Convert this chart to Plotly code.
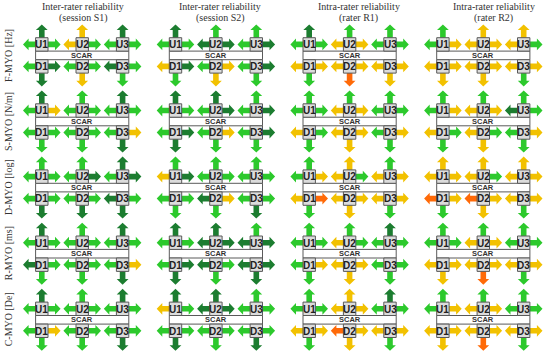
import plotly.graph_objects as go

# ---------------- data ----------------
TITLE_LINE1 = ["Inter-rater reliability", "Inter-rater reliability",
               "Intra-rater reliability", "Intra-rater reliability"]
TITLE_LINE2 = ["(session S1)", "(session S2)", "(rater R1)", "(rater R2)"]
ROW_LABELS = ["F-MYO [Hz]", "S-MYO [N/m]", "D-MYO [log]", "R-MYO [ms]", "C-MYO [De]"]
UP_ELECTRODES = ["U1", "U2", "U3"]
DOWN_ELECTRODES = ["D1", "D2", "D3"]

# reliability level of every arrow, one string per column (S1, S2, R1, R2)
# groups: U1 U2 U3 (up, left, right)  D1 D2 D3 (left, right, down)
# E = excellent, G = good, M = moderate, P = poor
F_MYO = ["EGG MMG EGG GEE GGM EGG", "EGG GEE GGE MEG GMM GEG",
         "EGG GMM GGG MMG MMP MMM", "GGM MMM MMG MMM MMM MMG"]
S_MYO = ["EGM GGG EGG GGG GGG GME", "EGG EGE GGE GEE GMG GEG",
         "GGG GMM GGG MGG MMM GMG", "GGM GMM GEG MGG MGM GMG"]
D_MYO = ["GGG GGE EGE GGE GGE EGE", "GME GGG GGG GGG EMG GGE",
         "GGM MMG GMM MPG MMM MMG", "MMM MMG MMM PMG PMM MMG"]
R_MYO = ["EGG GGG EGG EGG GGG GME", "EGG EEE GEE GEE EGG EEE",
         "GGG GMG EGG GMG MMM GGG", "GGG GMM GGG MMM MMP MMG"]
C_MYO = ["EGG GGG EGG GMG GGG GGE", "EMG EEE GGG GGE GGG GGE",
         "GGG MMM EGG MMG PMM MMG", "GGM GMM GGG MMM MMP MMG"]
ROWS = [F_MYO, S_MYO, D_MYO, R_MYO, C_MYO]

LEVEL_COLORS = {"E": "#1c7d30", "G": "#2cc92c", "M": "#f2c100", "P": "#ff6a08"}

# ---------------- layout constants ----------------
W, H = 560, 354
X0, PANEL_DX, ELEC_DX = 41.8, 133.7, 40.4
Y0, ROW_DY = 55.4, 66.1
BOX_W, BOX_H, SCAR_H = 12.4, 13.4, 8.6
TIP_H, TIP_V = 18.8, 20.0
SHAFT, HEAD, HEAD_L = 2.8, 5.9, 5.6
TITLE_X = [83, 220, 358.5, 493.5]

shapes, annotations = [], []


def arrow(cx, cy, dx, dy, L, color):
    px, py = -dy, dx
    pts = [(0, -SHAFT), (L - HEAD_L, -SHAFT), (L - HEAD_L, -HEAD), (L, 0),
           (L - HEAD_L, HEAD), (L - HEAD_L, SHAFT), (0, SHAFT)]
    coords = [(cx + a * dx + b * px, cy + a * dy + b * py) for a, b in pts]
    path = "M " + " L ".join(f"{x:.2f},{y:.2f}" for x, y in coords) + " Z"
    shapes.append(dict(type="path", path=path, xref="x", yref="y",
                       fillcolor=color, line=dict(width=0), layer="above"))


for r, row in enumerate(ROWS):
    yc = Y0 + r * ROW_DY
    yu = yc - SCAR_H / 2 - BOX_H / 2
    yd = yc + SCAR_H / 2 + BOX_H / 2
    for c, panel in enumerate(row):
        groups = panel.split()
        bx = X0 + c * PANEL_DX
        # arrows
        for e in range(3):
            ex = bx + e * ELEC_DX
            up, left, right = groups[e]
            arrow(ex, yu, 0, -1, TIP_V, LEVEL_COLORS[up])
            arrow(ex, yu, -1, 0, TIP_H, LEVEL_COLORS[left])
            arrow(ex, yu, 1, 0, TIP_H, LEVEL_COLORS[right])
            left, right, down = groups[3 + e]
            arrow(ex, yd, -1, 0, TIP_H, LEVEL_COLORS[left])
            arrow(ex, yd, 1, 0, TIP_H, LEVEL_COLORS[right])
            arrow(ex, yd, 0, 1, TIP_V, LEVEL_COLORS[down])
        # scar bar
        shapes.append(dict(type="rect", xref="x", yref="y",
                           x0=bx - BOX_W / 2, x1=bx + 2 * ELEC_DX + BOX_W / 2,
                           y0=yc - SCAR_H / 2, y1=yc + SCAR_H / 2,
                           fillcolor="white", line=dict(color="#5a5a5a", width=1),
                           layer="above"))
        annotations.append(dict(x=bx + ELEC_DX, y=yc, xref="x", yref="y", text="SCAR",
                                showarrow=False, xanchor="center", yanchor="middle",
                                font=dict(family="Liberation Sans", size=7.5,
                                          color="#333", weight="bold")))
        # electrode boxes
        for e in range(3):
            ex = bx + e * ELEC_DX
            for yy, lab in ((yu, UP_ELECTRODES[e]), (yd, DOWN_ELECTRODES[e])):
                shapes.append(dict(type="rect", xref="x", yref="y",
                                   x0=ex - BOX_W / 2, x1=ex + BOX_W / 2,
                                   y0=yy - BOX_H / 2, y1=yy + BOX_H / 2,
                                   fillcolor="#dcdcdc",
                                   line=dict(color="#5a5a5a", width=1), layer="above"))
                annotations.append(dict(x=ex, y=yy + 0.3, xref="x", yref="y", text=lab,
                                        showarrow=False, xanchor="center", yanchor="middle",
                                        font=dict(family="Liberation Sans", size=10,
                                                  color="#222", weight="bold")))
    annotations.append(dict(x=8.5, y=yc, xref="x", yref="y", text=ROW_LABELS[r],
                            textangle=-90, showarrow=False, xanchor="center",
                            yanchor="middle",
                            font=dict(family="Liberation Serif", size=10, color="#333")))

for c in range(4):
    annotations.append(dict(x=TITLE_X[c], y=6.3, xref="x", yref="y", text=TITLE_LINE1[c],
                            showarrow=False, xanchor="center", yanchor="middle",
                            font=dict(family="Liberation Serif", size=10, color="#333")))
    annotations.append(dict(x=TITLE_X[c], y=17.8, xref="x", yref="y", text=TITLE_LINE2[c],
                            showarrow=False, xanchor="center", yanchor="middle",
                            font=dict(family="Liberation Serif", size=10, color="#333")))

fig = go.Figure()
fig.add_trace(go.Scatter(x=[0, W], y=[0, H], mode="markers",
                         marker=dict(opacity=0), hoverinfo="skip", showlegend=False))
fig.update_layout(width=W, height=H, margin=dict(l=0, r=0, t=0, b=0),
                  paper_bgcolor="white", plot_bgcolor="white",
                  shapes=shapes, annotations=annotations, showlegend=False)
fig.update_xaxes(range=[0, W], visible=False, fixedrange=True)
fig.update_yaxes(range=[H, 0], visible=False, fixedrange=True)
fig.write_html("out.html")
